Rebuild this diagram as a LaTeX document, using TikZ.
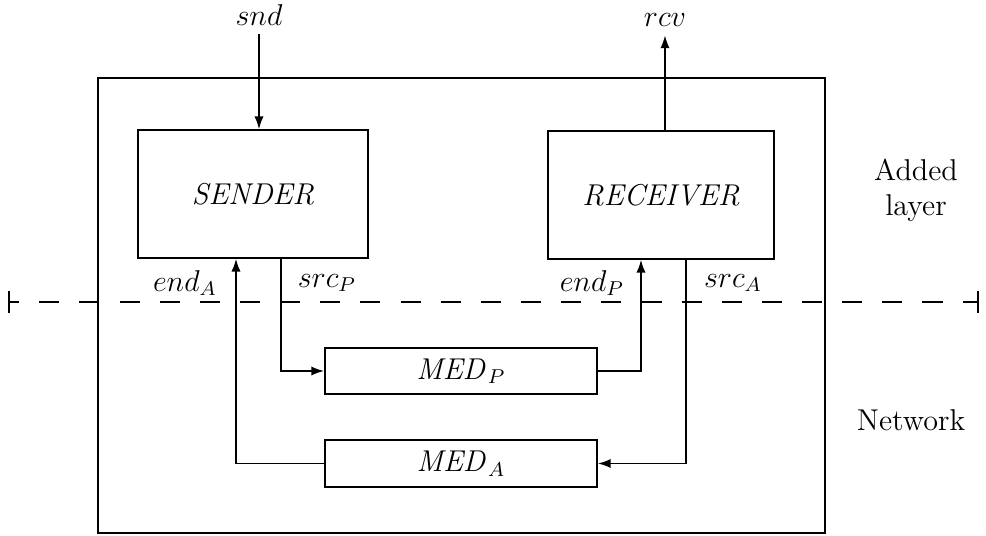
\documentclass[tikz,border=0pt]{standalone}
\usepackage{tikz}
\usetikzlibrary{arrows.meta}

\begin{document}
\begin{tikzpicture}[
    x=0.014cm, y=-0.014cm,
    font=\large,
    box/.style={draw, line width=0.7pt, inner sep=0pt},
    flow/.style={-{Latex[length=1.8mm,width=1.3mm]}, line width=0.7pt},
    divider/.style={{Bar[width=3mm]}-{Bar[width=3mm]}, line width=0.6pt,
        dash pattern=on 8pt off 8pt, dash phase=4pt}
]
\useasboundingbox (0,0) rectangle (986,536);
\node[box, minimum width=10.18cm, minimum height=6.37cm] (net) at (461.5,305.5) {};
\node[box, minimum width=3.22cm, minimum height=1.79cm] (sender) at (253,194)
    {\textit{SENDER}};
\node[box, minimum width=3.16cm, minimum height=1.79cm] (receiver) at (661,195)
    {\textit{RECEIVER}};
\node[box, minimum width=3.81cm, minimum height=0.65cm] (medP) at (461,371)
    {$\mathit{MED}_P$};
\node[box, minimum width=3.81cm, minimum height=0.65cm] (medA) at (461,463.5)
    {$\mathit{MED}_A$};
\node (snd) at (259,15) {$snd$};
\node (rcv) at (665,20) {$rcv$};
\node (endA) at (185,283) {$end_A$};
\node (srcP) at (327,283) {$src_P$};
\node (endP) at (592,283) {$end_P$};
\node (srcA) at (733,283) {$src_A$};
\node[align=center] (added) at (916,190) {Added\\layer};
\node (network) at (911,420) {Network};
% x positions of the wires
\coordinate (xEA) at (236,0);
\coordinate (xSP) at (281,0);
\coordinate (xEP) at (641,0);
\coordinate (xSA) at (686,0);
\coordinate (dl) at (8,302);
\coordinate (dr) at (979,302);
\draw[divider] (dl) -- (dr);
\draw[flow] (snd.south) -- (snd |- sender.north);
\draw[flow] (rcv |- receiver.north) -- (rcv.south);
\draw[flow] (xSP |- sender.south) |- (medP.west);
\draw[flow] (medP.east) -| (xEP |- receiver.south);
\draw[flow] (xSA |- receiver.south) |- (medA.east);
\draw[flow] (medA.west) -| (xEA |- sender.south);
\end{tikzpicture}
\end{document}
